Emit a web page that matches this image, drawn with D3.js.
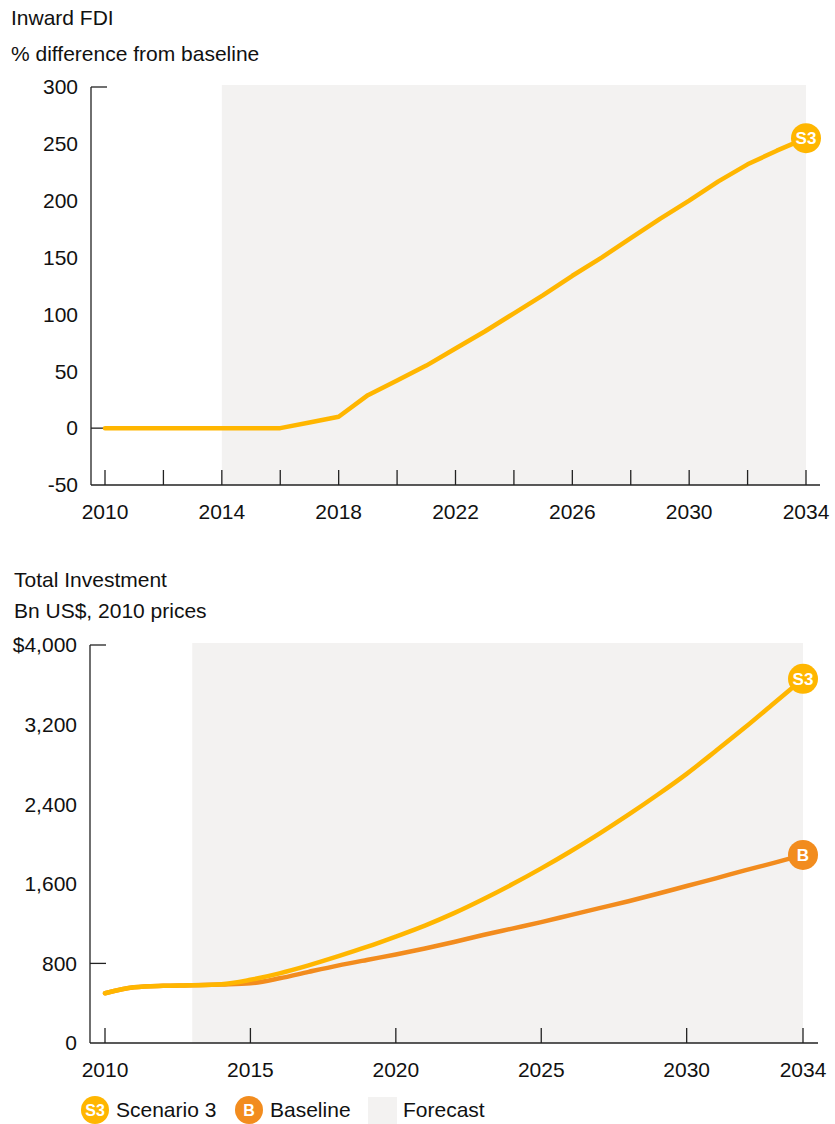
<!DOCTYPE html>
<html><head><meta charset="utf-8">
<script src="https://cdn.jsdelivr.net/npm/d3@7/dist/d3.min.js"></script>
<style>body{margin:0;background:#fff}svg text{font-family:"Liberation Sans",Arial,sans-serif;fill:#111}</style>
</head><body><svg id="c" width="835" height="1124"></svg>
<script>
// ---- Data ----
const fdiYears = d3.range(2010, 2035);
const fdiS3 = [0,0,0,0,0,0,0,5,10,29,42,55,70,85,101,117,134,150,167,184,200,217,232,244,255];
const fdiYTicks = [-50,0,50,100,150,200,250,300];
const fdiXTicks = d3.range(2010, 2035, 2);
const fdiXLabels = [2010,2014,2018,2022,2026,2030,2034];

const invYears = d3.range(2010, 2035);
const invS3 = [500,560,575,580,590,635,700,780,870,965,1070,1180,1305,1445,1595,1755,1925,2105,2295,2495,2705,2935,3170,3415,3660];
const invBase = [500,560,575,580,588,600,650,715,778,835,890,950,1015,1085,1150,1215,1285,1355,1425,1500,1578,1655,1735,1810,1890];
const invYTicks = [0,800,1600,2400,3200,4000];
const invXTicks = [2010,2015,2020,2025,2030,2034];

const YELLOW = "#FFB600", ORANGE = "#F28C1E", FORE = "#F3F2F1";
const FS = 21;

const svg = d3.select("#c");

function chart(cfg){
  const g = svg.append("g");
  const x = d3.scaleLinear().domain([2010,2034]).range([cfg.x0, cfg.x1]);
  const y = d3.scaleLinear().domain(cfg.yDom).range([cfg.yB, cfg.yT]);
  // forecast shading
  g.append("rect").attr("x", x(cfg.foreStart)).attr("y", cfg.yT - 2)
    .attr("width", x(2034)-x(cfg.foreStart)).attr("height", cfg.yB - cfg.yT + 2).attr("fill", FORE);
  // titles
  g.append("text").attr("x", cfg.tx).attr("y", cfg.t1y).attr("font-size", FS).text(cfg.t1);
  g.append("text").attr("x", cfg.tx).attr("y", cfg.t2y).attr("font-size", FS).text(cfg.t2);
  // y axis
  const ax = cfg.ax;
  g.append("line").attr("x1", ax).attr("x2", ax).attr("y1", y(cfg.yDom[1])).attr("y2", cfg.yB).attr("stroke","#222").attr("stroke-width",1.3);
  cfg.yTicks.forEach(v=>{
    if (cfg.yTickMarks.includes(v))
      g.append("line").attr("x1", ax).attr("x2", ax+16).attr("y1", y(v)).attr("y2", y(v)).attr("stroke","#222").attr("stroke-width",1.3);
    g.append("text").attr("x", ax-13).attr("y", y(v)).attr("dy","0.35em").attr("text-anchor","end")
      .attr("font-size", FS).text(cfg.yFmt(v));
  });
  // x axis
  g.append("line").attr("x1", ax).attr("x2", cfg.xEnd).attr("y1", cfg.yB).attr("y2", cfg.yB).attr("stroke","#222").attr("stroke-width",1.3);
  cfg.xTicks.forEach(v=>{
    g.append("line").attr("x1", x(v)).attr("x2", x(v)).attr("y1", cfg.yB).attr("y2", cfg.yB-15).attr("stroke","#222").attr("stroke-width",1.3);
  });
  cfg.xLabels.forEach(v=>{
    g.append("text").attr("x", x(v)).attr("y", cfg.yB+27).attr("dy","0.35em").attr("text-anchor","middle")
      .attr("font-size", FS).text(v);
  });
  // series
  const line = d3.line().x(d=>x(d[0])).y(d=>y(d[1])).curve(cfg.curve);
  cfg.series.forEach(s=>{
    const pts = cfg.years.map((yr,i)=>[yr, s.vals[i]]);
    g.append("path").attr("d", line(pts)).attr("fill","none").attr("stroke", s.color)
      .attr("stroke-width",4.5).attr("stroke-linecap","round").attr("stroke-linejoin","round");
  });
  cfg.series.forEach(s=>{
    const last = s.vals[s.vals.length-1];
    const cx = x(2034), cy = y(last);
    g.append("circle").attr("cx", cx).attr("cy", cy).attr("r", 15).attr("fill", s.color);
    g.append("text").attr("x", cx).attr("y", cy).attr("dy","0.36em").attr("text-anchor","middle")
      .attr("font-size", 17).attr("font-weight","bold").style("fill","#fff").text(s.tag);
  });
}

chart({
  x0:105, x1:806, ax:91, xEnd:820, yT:87, yB:485, yDom:[-50,300], foreStart:2014,
  tx:11, t1:"Inward FDI", t1y:25, t2:"% difference from baseline", t2y:61,
  yTicks:fdiYTicks, yTickMarks:[0,300], yFmt:d=>d,
  xTicks:fdiXTicks, xLabels:fdiXLabels, years:fdiYears, curve:d3.curveLinear,
  series:[{vals:fdiS3, color:YELLOW, tag:"S3"}]
});
chart({
  x0:105, x1:803, ax:90, xEnd:818, yT:645, yB:1043, yDom:[0,4000], foreStart:2013,
  tx:14, t1:"Total Investment", t1y:587, t2:"Bn US$, 2010 prices", t2y:618,
  yTicks:invYTicks, yTickMarks:[800,4000], yFmt:d=> d===4000 ? "$4,000" : d3.format(",")(d),
  xTicks:invXTicks, xLabels:invXTicks, years:invYears, curve:d3.curveMonotoneX,
  series:[{vals:invBase, color:ORANGE, tag:"B"},{vals:invS3, color:YELLOW, tag:"S3"}]
});

// legend
const lg = svg.append("g");
const legendItems = [{tag:"S3", color:YELLOW, label:"Scenario 3", x:95},{tag:"B", color:ORANGE, label:"Baseline", x:249}];
legendItems.forEach(it=>{
  lg.append("circle").attr("cx", it.x).attr("cy", 1110).attr("r", 14).attr("fill", it.color);
  lg.append("text").attr("x", it.x).attr("y", 1110).attr("dy","0.36em").attr("text-anchor","middle")
    .attr("font-size", 16).attr("font-weight","bold").style("fill","#fff").text(it.tag);
  lg.append("text").attr("x", it.x+21).attr("y", 1110).attr("dy","0.35em").attr("font-size",FS).text(it.label);
});
lg.append("rect").attr("x", 368).attr("y", 1097).attr("width", 29).attr("height", 27).attr("fill", FORE);
lg.append("text").attr("x", 403).attr("y", 1110).attr("dy","0.35em").attr("font-size",FS).text("Forecast");
</script></body></html>
